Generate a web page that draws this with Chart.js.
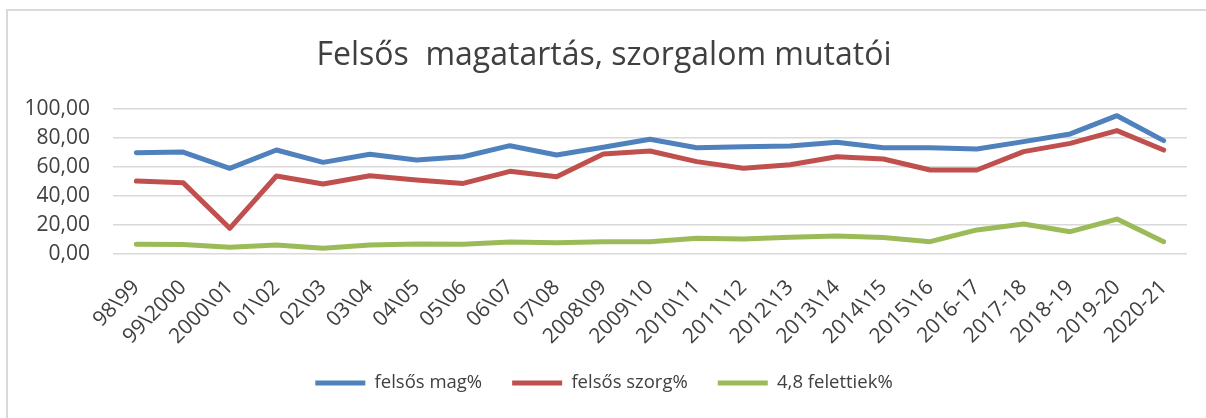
<!DOCTYPE html>
<html>
<head>
<meta charset="utf-8">
<script src="https://cdn.jsdelivr.net/npm/chart.js@4.4.1/dist/chart.umd.min.js"></script>
<style>
  html, body { margin: 0; padding: 0; background: #ffffff; }
  #wrap { position: relative; width: 1206px; height: 418px; overflow: hidden; }
  #frame { position: absolute; left: 6px; top: 9px; width: 1210px; height: 420px;
           border-top: 2px solid #d9d9d9; border-left: 2px solid #d9d9d9; box-sizing: border-box; }
  #c { position: absolute; left: 0; top: 0; }
</style>
</head>
<body>
<div id="wrap">
  <div id="frame"></div>
  <canvas id="c" width="1206" height="418"></canvas>
</div>
<script>
const categories = ['98\\99','99\\2000','2000\\01','01\\02','02\\03','03\\04','04\\05','05\\06','06\\07','07\\08','2008\\09','2009\\10','2010\\11','2011\\12','2012\\13','2013\\14','2014\\15','2015\\16','2016-17','2017-18','2018-19','2019-20','2020-21'];
const felsosMag = [69.9,70.3,59.1,71.7,63.2,68.8,64.8,67.1,74.7,68.3,73.6,79.1,73.3,74.0,74.5,77.0,73.3,73.3,72.4,77.5,82.8,95.4,78.2];
const felsosSzorg = [50.3,49.2,17.7,53.8,48.3,54.0,51.0,48.7,57.0,53.3,69.0,71.0,63.7,59.1,61.5,67.1,65.5,57.9,57.9,70.6,76.3,85.1,71.7];
const felettiek48 = [6.7,6.5,4.6,6.2,3.9,6.2,6.9,6.7,8.3,7.8,8.5,8.5,10.8,10.3,11.5,12.4,11.3,8.5,16.6,20.7,15.4,24.1,8.5];
const seriesNames = ['felsős mag%', 'felsős szorg%', '4,8 felettiek%'];
const chartTitle = 'Felsős  magatartás, szorgalom mutatói';
const yMin = 0, yMax = 100, yStep = 20;

const colors = ['#4F81BD', '#C0504D', '#9BBB59'];
const textColor = '#404040';
const font = "'Open Sans', sans-serif";
const padLeft = 21;

function ds(label, data, color) {
  return {
    label, data,
    borderColor: color, backgroundColor: color,
    borderWidth: 5, pointRadius: 0, pointHoverRadius: 0,
    tension: 0, borderCapStyle: 'round', borderJoinStyle: 'round',
    fill: false
  };
}

new Chart(document.getElementById('c'), {
  type: 'line',
  data: {
    labels: categories,
    datasets: [
      ds(seriesNames[0], felsosMag, colors[0]),
      ds(seriesNames[1], felsosSzorg, colors[1]),
      ds(seriesNames[2], felettiek48, colors[2])
    ]
  },
  options: {
    responsive: false,
    animation: false,
    events: [],
    layout: { padding: { left: padLeft, right: 19, top: 0, bottom: 15.75 } },
    plugins: {
      title: {
        display: true, text: chartTitle, color: textColor,
        font: { family: font, size: 32, weight: 'normal', lineHeight: 1.2 },
        padding: { top: 36.8, bottom: 33.8 }
      },
      legend: {
        display: true, position: 'bottom',
        labels: {
          usePointStyle: true, pointStyle: 'line', pointStyleWidth: 50,
          color: textColor, padding: 30,
          font: { family: font, size: 18.5 }
        }
      },
      tooltip: { enabled: false }
    },
    scales: {
      x: {
        offset: true,
        grid: { display: false, drawTicks: false },
        border: { display: false },
        ticks: { color: textColor, minRotation: 45, maxRotation: 45, autoSkip: false, padding: 21,
                 font: { family: font, size: 21 } },
        afterFit: (s) => { s.height = 89.75; }
      },
      y: {
        min: yMin, max: yMax,
        grid: { color: '#d9d9d9', lineWidth: 1.5, drawTicks: false },
        border: { display: false },
        ticks: { stepSize: yStep, color: textColor, padding: 23,
                 font: { family: font, size: 21 },
                 callback: (v) => v.toFixed(2).replace('.', ',') },
        afterFit: (s) => { s.width = 113 - padLeft; }
      }
    }
  }
});
</script>
</body>
</html>
